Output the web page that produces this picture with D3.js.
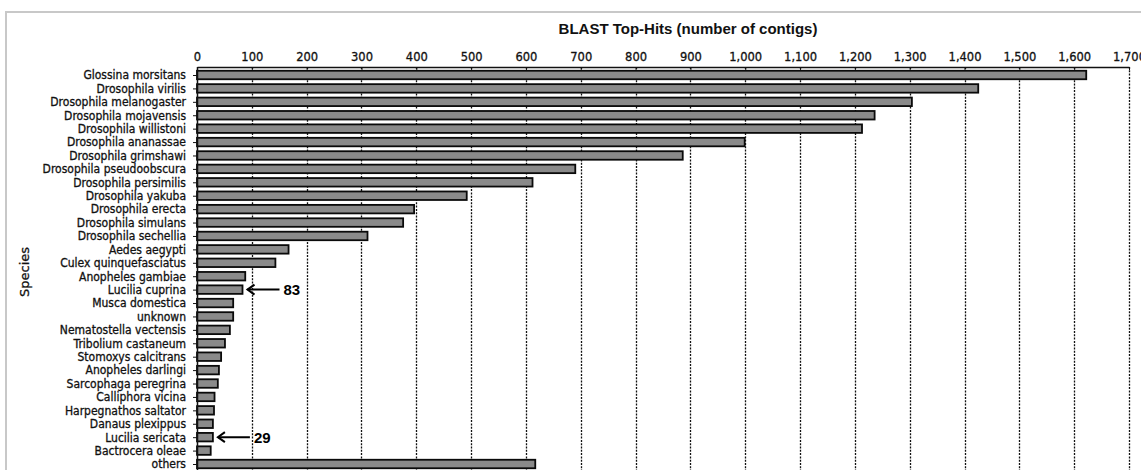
<!DOCTYPE html>
<html>
<head>
<meta charset="utf-8">
<script src="https://cdn.jsdelivr.net/npm/d3@7"></script>
<style>
  html, body { margin: 0; padding: 0; background: #fff; }
  svg { display: block; }
</style>
</head>
<body>
<svg id="chart" width="1141" height="470"></svg>
<script>
// Species, in display order (top to bottom)
const species = [
  "Glossina morsitans", "Drosophila virilis", "Drosophila melanogaster",
  "Drosophila mojavensis", "Drosophila willistoni", "Drosophila ananassae",
  "Drosophila grimshawi", "Drosophila pseudoobscura", "Drosophila persimilis",
  "Drosophila yakuba", "Drosophila erecta", "Drosophila simulans",
  "Drosophila sechellia", "Aedes aegypti", "Culex quinquefasciatus",
  "Anopheles gambiae", "Lucilia cuprina", "Musca domestica", "unknown",
  "Nematostella vectensis", "Tribolium castaneum", "Stomoxys calcitrans",
  "Anopheles darlingi", "Sarcophaga peregrina", "Calliphora vicina",
  "Harpegnathos saltator", "Danaus plexippus", "Lucilia sericata",
  "Bactrocera oleae", "others"
];

// Number of contigs with a top BLAST hit to each species
const hits = [
  1622, 1425, 1304, 1236, 1213, 999, 886, 690, 612, 492, 396, 376, 311,
  167, 143, 88, 83, 66, 66, 60, 51, 44, 40, 38, 32, 31, 29, 29, 25, 617
];

// Axis ticks
const xTicks = [0, 100, 200, 300, 400, 500, 600, 700, 800, 900, 1000,
                1100, 1200, 1300, 1400, 1500, 1600, 1700];

// Values called out with an arrow
const callouts = [
  { name: "Lucilia cuprina", value: 83 },
  { name: "Lucilia sericata", value: 29 }
];

const svg = d3.select("#chart");

// Frame
svg.append("rect")
  .attr("x", 6).attr("y", 12)
  .attr("width", 1160).attr("height", 480)
  .attr("fill", "none")
  .attr("stroke", "#c8c8c8")
  .attr("stroke-width", 2);

const x = d3.scaleLinear().domain([0, 1700]).range([197, 1129]);
const y = d3.scalePoint().domain(species).range([75, 464]);
const axisY = 67;
const barH = 8.5;

// Dotted gridlines
svg.append("g")
  .selectAll("line")
  .data(xTicks.filter(d => d > 0))
  .join("line")
  .attr("x1", d => Math.round(x(d)) + 0.5)
  .attr("x2", d => Math.round(x(d)) + 0.5)
  .attr("y1", axisY)
  .attr("y2", 470)
  .attr("stroke", "#111")
  .attr("stroke-width", 1.3)
  .attr("stroke-dasharray", "2,1.3");

// Bars
svg.append("g")
  .selectAll("rect")
  .data(species.map((s, i) => ({ s, v: hits[i] })))
  .join("rect")
  .attr("x", x(0))
  .attr("y", d => y(d.s) - barH / 2)
  .attr("width", d => x(d.v) - x(0))
  .attr("height", barH)
  .attr("fill", "#8a8a8a")
  .attr("stroke", "#0a0a0a")
  .attr("stroke-width", 1.8);

// Top axis
const gx = svg.append("g")
  .attr("transform", `translate(0,${axisY})`)
  .call(d3.axisTop(x)
    .tickValues(xTicks)
    .tickFormat(d3.format(","))
    .tickSizeInner(-3)
    .tickSizeOuter(0)
    .tickPadding(6));
gx.select(".domain").attr("stroke", "#111").attr("stroke-width", 1.5);
gx.selectAll(".tick line").attr("stroke", "#111");
gx.selectAll(".tick text")
  .attr("fill", "#111")
  .attr("stroke", "#111")
  .attr("stroke-width", 0.3)
  .style("font-family", "'DejaVu Sans', sans-serif")
  .style("font-size", "11.5px");

// Left axis
const gy = svg.append("g")
  .attr("transform", `translate(${x(0)},0)`)
  .call(d3.axisLeft(y)
    .tickSizeInner(4)
    .tickSizeOuter(0)
    .tickPadding(7));
gy.select(".domain")
  .attr("d", `M0.5,${axisY}V470`)
  .attr("stroke", "#111").attr("stroke-width", 1.5);
gy.selectAll(".tick line").attr("stroke", "#111");
gy.selectAll(".tick text")
  .attr("fill", "#111")
  .attr("stroke", "#111")
  .attr("stroke-width", 0.3)
  .style("font-family", "'DejaVu Sans Condensed', 'DejaVu Sans', sans-serif")
  .style("font-stretch", "condensed")
  .style("font-size", "12px");

// Titles
svg.append("text")
  .attr("x", 688).attr("y", 34)
  .attr("text-anchor", "middle")
  .style("font-family", "'Liberation Sans', Arial, sans-serif")
  .style("font-weight", "bold")
  .style("font-size", "15px")
  .attr("fill", "#111")
  .text("BLAST Top-Hits (number of contigs)");

svg.append("text")
  .attr("transform", "translate(29,272) rotate(-90)")
  .attr("text-anchor", "middle")
  .style("font-family", "'DejaVu Sans', sans-serif")
  .style("font-size", "13px")
  .attr("fill", "#111")
  .attr("stroke", "#111")
  .attr("stroke-width", 0.3)
  .text("Species");

// Arrow callouts
const co = svg.append("g").selectAll("g").data(callouts).join("g")
  .attr("transform", d => `translate(${x(d.value) + 5},${y(d.name)})`);
co.append("line")
  .attr("x1", 0).attr("x2", 32).attr("y1", 0).attr("y2", 0)
  .attr("stroke", "#000").attr("stroke-width", 2);
co.append("path")
  .attr("d", "M7,-5L0,0L7,5")
  .attr("fill", "none")
  .attr("stroke", "#000").attr("stroke-width", 2);
co.append("text")
  .attr("x", 36).attr("y", 0).attr("dy", "0.36em")
  .style("font-family", "'Liberation Sans', Arial, sans-serif")
  .style("font-weight", "bold")
  .style("font-size", "15px")
  .attr("fill", "#000")
  .text(d => d.value);
</script>
</body>
</html>
